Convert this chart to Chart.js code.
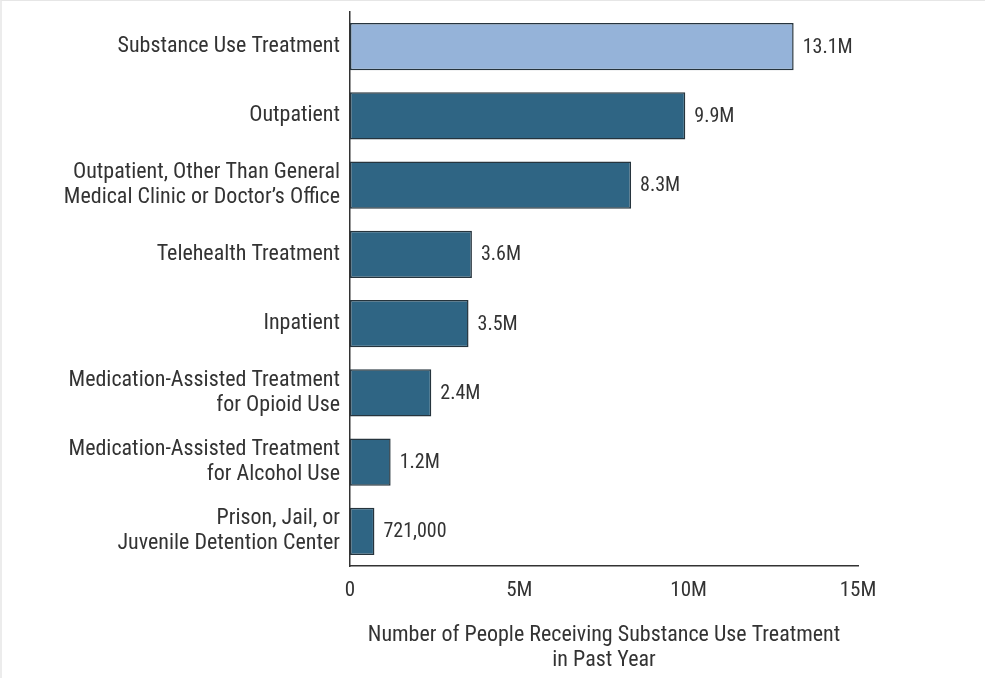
<!DOCTYPE html>
<html>
<head>
<meta charset="utf-8">
<script src="https://cdn.jsdelivr.net/npm/chart.js@4/dist/chart.umd.min.js"></script>
<style>
html,body{margin:0;padding:0;background:#fff;}
#wrap{position:relative;width:985px;height:678px;box-sizing:border-box;border-top:1px solid #e6e6e6;border-left:2px solid #ececec;}
canvas{display:block;}
</style>
</head>
<body>
<div id="wrap"><canvas id="c" width="983" height="677"></canvas></div>
<script>
const categories = [
  "Substance Use Treatment",
  "Outpatient",
  ["Outpatient, Other Than General", "Medical Clinic or Doctor\u2019s Office"],
  "Telehealth Treatment",
  "Inpatient",
  ["Medication-Assisted Treatment", "for Opioid Use"],
  ["Medication-Assisted Treatment", "for Alcohol Use"],
  ["Prison, Jail, or", "Juvenile Detention Center"]
];
const peopleMillions = [13.1, 9.9, 8.3, 3.6, 3.5, 2.4, 1.2, 0.721];
const valueLabels = ["13.1M", "9.9M", "8.3M", "3.6M", "3.5M", "2.4M", "1.2M", "721,000"];
const xTicks = [0, 5, 10, 15];
const xTickLabels = ["0", "5M", "10M", "15M"];
const axisTitle = ["Number of People Receiving Substance Use Treatment", "in Past Year"];

const FONT = "'Liberation Sans Narrow', 'Roboto Condensed', 'Roboto', sans-serif";
const TXT = "#333333";

const barColors = peopleMillions.map((v, i) => i === 0 ? "#95b3d9" : "#2f6584");

const valueLabelPlugin = {
  id: "valueLabels",
  afterDatasetsDraw(chart) {
    const ctx = chart.ctx;
    const meta = chart.getDatasetMeta(0);
    ctx.save();
    ctx.font = "20px " + FONT;
    ctx.fillStyle = TXT;
    ctx.textAlign = "left";
    ctx.textBaseline = "middle";
    meta.data.forEach((bar, i) => {
      ctx.fillText(valueLabels[i], bar.x + 9, bar.y + 1);
    });
    ctx.restore();
  }
};

new Chart(document.getElementById("c"), {
  type: "bar",
  data: {
    labels: categories,
    datasets: [{
      data: peopleMillions,
      backgroundColor: barColors,
      borderColor: "#26343d",
      borderWidth: 1.5,
      borderSkipped: false,
      barPercentage: 0.68,
      categoryPercentage: 1.0
    }]
  },
  options: {
    indexAxis: "y",
    responsive: false,
    animation: false,
    layout: { padding: { top: 11, right: 127, bottom: 0, left: 0 } },
    plugins: { legend: { display: false }, tooltip: { enabled: false } },
    scales: {
      x: {
        type: "linear",
        min: 0,
        max: 15,
        afterBuildTicks(axis) { axis.ticks = xTicks.map(v => ({ value: v })); },
        afterFit(axis) { axis.height = 112; axis.paddingLeft = 0; axis.paddingRight = 0; },
        grid: { display: false, drawTicks: false },
        border: { display: true, color: "#333333", width: 1.5 },
        ticks: {
          color: TXT,
          font: { family: FONT, size: 21 },
          padding: 12,
          maxRotation: 0,
          callback: (v) => xTickLabels[xTicks.indexOf(v)]
        },
        title: {
          display: true,
          text: axisTitle,
          color: TXT,
          font: { family: FONT, size: 22, lineHeight: 1.14 },
          padding: { top: 5, bottom: 5 }
        }
      },
      y: {
        afterFit(axis) { axis.width = 348; axis.paddingTop = 0; axis.paddingBottom = 0; },
        grid: { display: false, drawTicks: false },
        border: { display: true, color: "#333333", width: 1.5 },
        ticks: {
          color: TXT,
          font: { family: FONT, size: 22, lineHeight: 1.14 },
          padding: 10,
          crossAlign: "near"
        }
      }
    }
  },
  plugins: [valueLabelPlugin]
});
</script>
</body>
</html>
